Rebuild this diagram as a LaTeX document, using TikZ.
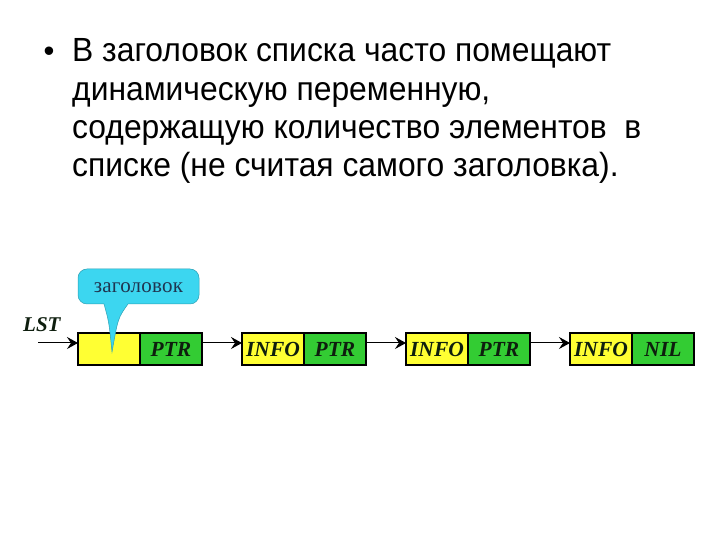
\documentclass[tikz,border=0pt]{standalone}
\usepackage{fontspec}
\setmainfont{Liberation Sans}
\newfontfamily\bodyfont[FakeStretch=0.95]{Liberation Sans}
\newfontfamily\serifb{Liberation Serif}
\newfontfamily\calloutfont[LetterSpace=1]{Liberation Serif}
\usetikzlibrary{arrows.meta}
\definecolor{cellyellow}{HTML}{FFFF33}
\definecolor{cellgreen}{HTML}{33CC33}
\definecolor{callcyan}{HTML}{3CD6F0}
\definecolor{celltext}{HTML}{0E1E0E}
\definecolor{calltext}{HTML}{1F3550}
\tikzset{
  cell/.style={draw=black, line width=2pt, minimum width=62pt, minimum height=32pt, inner sep=0pt, outer sep=0pt,
    font=\serifb\bfseries\itshape\fontsize{21.5}{21.5}\selectfont, text=celltext},
  ycell/.style={cell, fill=cellyellow},
  gcell/.style={cell, fill=cellgreen},
  link/.style={line width=1pt, -{Stealth[length=11pt, width=12pt, inset=4pt]}},
  bodyline/.style={anchor=base west, inner sep=0pt, font=\bodyfont\fontsize{33.5}{38}\selectfont}
}
\begin{document}
\begin{tikzpicture}[x=1pt,y=1pt]
\useasboundingbox (0,0) rectangle (720,540);
\fill[white] (0,0) rectangle (720,540);
% bullet text
\node[inner sep=0pt, font=\fontsize{31}{36}\selectfont] (bul) at (49,486) {•};
\node[bodyline] (l1) at (72,478) {В заголовок списка часто помещают};
\node[bodyline] (l2) at (72,439.7) {динамическую переменную,};
\node[bodyline] (l3) at (72,401.3) {содержащую количество элементов\ \ в};
\node[bodyline] (l4) at (72,363) {списке (не считая самого заголовка).};
% list cells
\node[ycell] (h1) at (109,191) {};
\node[gcell] (p1) at (171,191) {PTR};
\node[ycell] (i2) at (273,191) {INFO};
\node[gcell] (p2) at (335,191) {PTR};
\node[ycell] (i3) at (437,191) {INFO};
\node[gcell] (p3) at (499,191) {PTR};
\node[ycell] (i4) at (601,191) {INFO};
\node[gcell] (p4) at (663,191) {NIL};
% LST pointer
\node[font=\serifb\bfseries\itshape\fontsize{21}{21}\selectfont, text=celltext, inner sep=0pt, anchor=base west] (lst) at (23,208) {LST};
\coordinate (lststart) at (38,197);
\draw[link] (lststart) -- ([yshift=6pt]h1.west);
\draw[link] ([yshift=6pt]p1.east) -- ([yshift=6pt]i2.west);
\draw[link] ([yshift=6pt]p2.east) -- ([yshift=6pt]i3.west);
\draw[link] ([yshift=6pt]p3.east) -- ([yshift=6pt]i4.west);
% callout
\draw[fill=callcyan, draw=callcyan!75!black, line width=0.5pt]
  [rounded corners=9pt] (104,236) -- (78,236) -- (78,271) -- (199,271) -- (199,236) [sharp corners] -- (128,236)
  .. controls (118,222) .. (112,188) .. controls (109,218) .. (104,236) -- cycle;
\node[font=\calloutfont\fontsize{21}{21}\selectfont, text=calltext, inner sep=0pt, anchor=base] (hdr) at (138.5,247) {заголовок};
\end{tikzpicture}
\end{document}
